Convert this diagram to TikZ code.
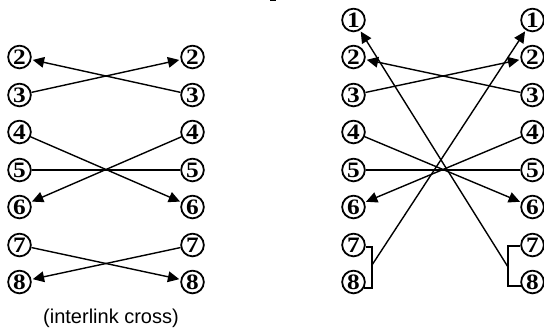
\documentclass[tikz,border=0pt]{standalone}
\usepackage{fontspec}
\setmainfont{Liberation Serif}
\newfontfamily\labelfont{Liberation Sans}
\newfontfamily\digitfont[FakeStretch=1.15]{Liberation Serif Bold}
\usetikzlibrary{arrows.meta}
\tikzset{
  x=0.75pt,y=-0.75pt,
  port/.style={circle,draw=black,line width=1.35pt,minimum size=17pt,inner sep=0pt,font=\digitfont\fontsize{16.5}{16.5}\selectfont},
  wire/.style={draw=black,line width=1.05pt,shorten >=1pt},
  arr/.style={wire,-{Triangle[length=8.5pt,width=8pt]}},
  caption/.style={font=\labelfont\fontsize{15}{15}\selectfont,text=black,inner sep=0pt}
}
\begin{document}
\begin{tikzpicture}
\useasboundingbox (0,0) rectangle (544,329);
% left panel
\foreach \n/\y in {2/57,3/95,4/132,5/170,6/207,7/245,8/282}{
  \node[port] (a\n) at (19.5,\y) {\n};
  \node[port] (b\n) at (192.5,\y) {\n};
}
% right panel
\foreach \n/\y in {1/20,2/57,3/95,4/132,5/170,6/207,7/245,8/282}{
  \node[port] (c\n) at (353.5,\y) {\n};
  \node[port] (d\n) at (532.5,\y) {\n};
}
\draw[arr] (b3) -- (a2);
\draw[arr] (a3) -- (b2);
\draw[arr] (a4) -- (b6);
\draw[arr] (b4) -- (a6);
\draw[wire,shorten >=0pt] (a5) -- (b5);
\draw[arr] (a7) -- (b8);
\draw[arr] (b7) -- (a8);

\draw[arr] (d3) -- (c2);
\draw[arr] (c3) -- (d2);
\draw[arr] (c4) -- (d6);
\draw[arr] (d4) -- (c6);
\draw[wire,shorten >=0pt] (c5) -- (d5);

\coordinate (cj) at (372,265);
\coordinate (dj) at (508,267);
\draw[wire,shorten >=0pt] (c7.-10) -- (cj |- c7.-10) -- (cj |- c8.-30) -- (c8.-30);
\draw[wire,shorten >=0pt] (d7.185) -- (dj |- d7.185) -- (dj |- d8.200) -- (d8.200);
\draw[arr] (cj) -- (d1);
\draw[arr] (dj) -- (c1);

\draw[line width=0.9pt] (270,0.3) -- (276,0.3);
\node[caption] (cap) at (111,318) {(interlink cross)};
\end{tikzpicture}
\end{document}
